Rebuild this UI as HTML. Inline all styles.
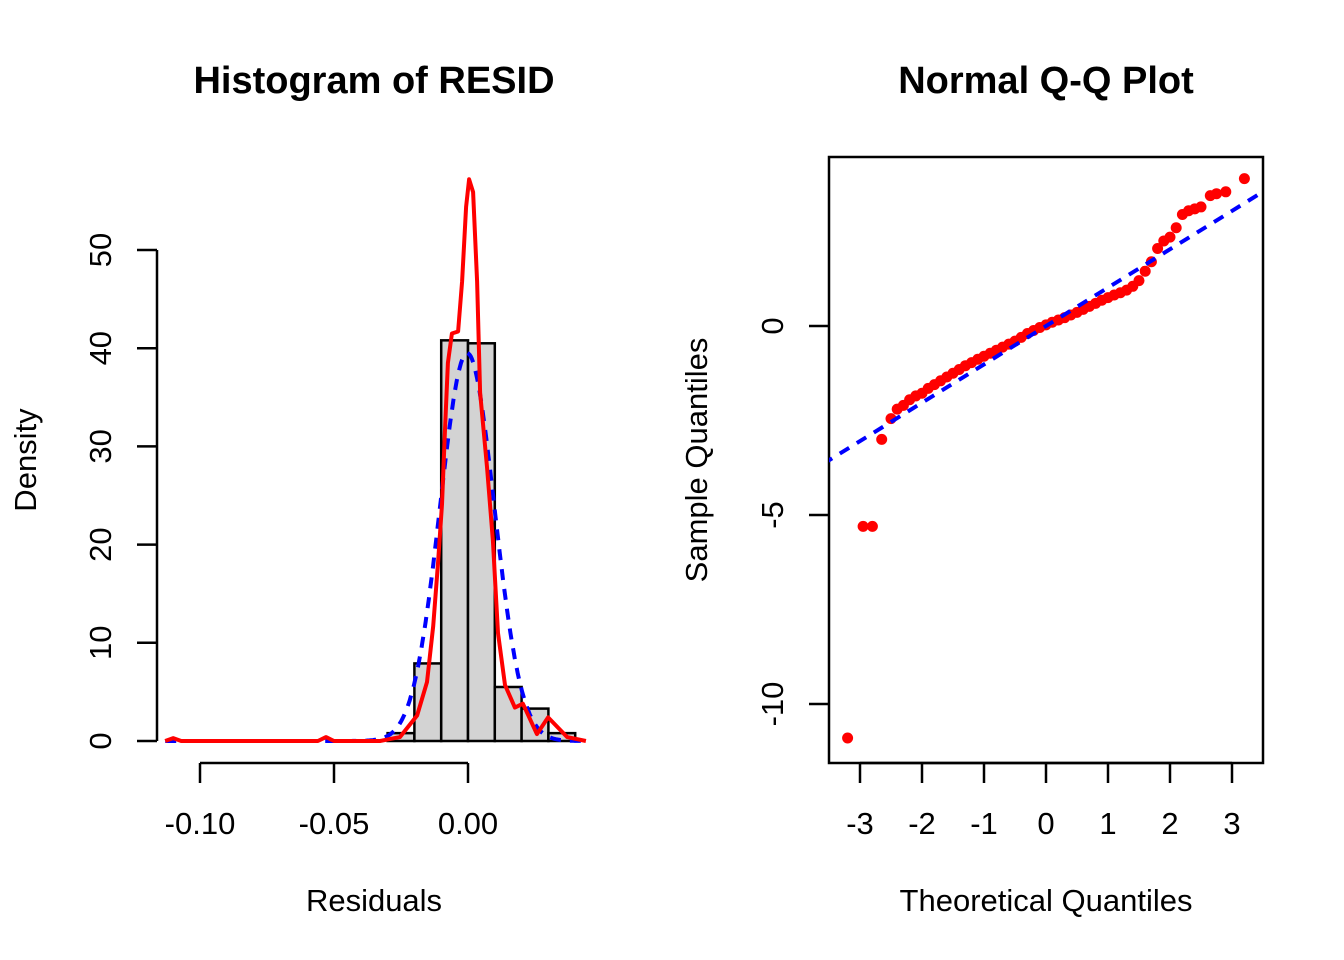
<!DOCTYPE html>
<html><head><meta charset="utf-8"><style>
body{margin:0;background:#fff;}
svg{display:block;font-family:"Liberation Sans",Arial,sans-serif;}
</style></head><body>
<svg id="chart" width="1344" height="960" viewBox="0 0 1344 960" xmlns="http://www.w3.org/2000/svg">
<rect width="1344" height="960" fill="#fff"/>
<g id="hist"></g>
<g id="qq"></g>
</svg>
<script>
// ---- Histogram data ----
const binEdges = [-0.03,-0.02,-0.01,0,0.01,0.02,0.03,0.04];
const binDensity = [0.8,7.9,40.8,40.5,5.5,3.3,0.8];
const kdeX = [-0.113,-0.110,-0.107,-0.056,-0.053,-0.050,-0.035,-0.0328,-0.0254,-0.019,-0.0153,-0.013,-0.0112,-0.0097,-0.0086,-0.0075,-0.006,-0.0037,-0.0022,-0.0007,0.0004,0.0019,0.0034,0.0045,0.0071,0.0093,0.0112,0.0138,0.0175,0.0205,0.0257,0.0299,0.037,0.044];
const kdeY = [0,0.3,0,0,0.4,0,0,0,0.4,2.6,6,11.7,18.1,24.1,31.7,38.5,41.5,41.7,46.8,54.4,57.2,55.9,46.8,35.5,27.9,20.4,11,5.7,3.4,3.8,0.7,2.4,0.4,0];
const normMean = -0.0003, normSd = 0.0101;
const histXTicks = [-0.10,-0.05,0.00];
const histXTickLabels = ["-0.10","-0.05","0.00"];
const histYTicks = [0,10,20,30,40,50];

// ---- QQ data ----
const qqTheo = [-3.2,-2.95,-2.8,-2.65,-2.5,-2.4,-2.3,-2.2,-2.1,-2.0,-1.9,-1.8,-1.7,-1.6,-1.5,-1.4,-1.3,-1.2,-1.1,-1.0,-0.9,-0.8,-0.7,-0.6,-0.5,-0.4,-0.3,-0.2,-0.1,0,0.1,0.2,0.3,0.4,0.5,0.6,0.7,0.8,0.9,1.0,1.1,1.2,1.3,1.4,1.5,1.6,1.7,1.8,1.9,2.0,2.1,2.2,2.3,2.4,2.5,2.65,2.75,2.9,3.2];
const qqSample = [-10.9,-5.3,-5.3,-3.0,-2.45,-2.2,-2.1,-1.95,-1.85,-1.78,-1.65,-1.55,-1.45,-1.35,-1.25,-1.15,-1.05,-0.97,-0.88,-0.8,-0.72,-0.64,-0.56,-0.48,-0.4,-0.3,-0.2,-0.12,-0.04,0.03,0.1,0.16,0.22,0.29,0.36,0.44,0.52,0.6,0.68,0.75,0.82,0.88,0.95,1.05,1.2,1.45,1.7,2.05,2.25,2.35,2.6,2.95,3.05,3.1,3.15,3.45,3.5,3.55,3.9];
const qqLineIntercept = 0, qqLineSlope = 1.015;
const qqXTicks = [-3,-2,-1,0,1,2,3];
const qqYTicks = [0,-5,-10];

const NS="http://www.w3.org/2000/svg";
function mk(parent,tag,attrs,text){const e=document.createElementNS(NS,tag);for(const k in attrs)e.setAttribute(k,attrs[k]);if(text!==undefined)e.textContent=text;parent.appendChild(e);return e;}

// Histogram axes
const hx = v => 468 + v*2680;
const hy = v => 741 - v*9.82;
const H=document.getElementById('hist');
let t=mk(H,'text',{x:374,y:93,'text-anchor':'middle','font-size':38,'font-weight':'bold'},'Histogram of RESID');

t=mk(H,'text',{x:374,y:911,'text-anchor':'middle','font-size':31},'Residuals');

t=mk(H,'text',{x:0,y:0,'text-anchor':'middle','font-size':31,transform:'translate(36,460) rotate(-90)'},'Density');

for(let i=0;i<binDensity.length;i++){
  const r=mk(H,'rect',{x:hx(binEdges[i]),y:hy(binDensity[i]),width:hx(binEdges[i+1])-hx(binEdges[i]),height:hy(0)-hy(binDensity[i]),fill:'#d3d3d3',stroke:'#000','stroke-width':2.5});
  
  
}
// normal curve
let pts=[];
for(let x=-0.113;x<=0.0445;x+=0.0004){const d=Math.exp(-0.5*((x-normMean)/normSd)**2)/(normSd*Math.sqrt(2*Math.PI));pts.push(hx(x).toFixed(1)+','+hy(d).toFixed(1));}
let p=mk(H,'polyline',{points:pts.join(' '),fill:'none',stroke:'#0000ff','stroke-width':4,'stroke-dasharray':'11,9'});

p=mk(H,'polyline',{points:kdeX.map((x,i)=>hx(x).toFixed(1)+','+hy(kdeY[i]).toFixed(1)).join(' '),fill:'none',stroke:'#ff0000','stroke-width':4,'stroke-linejoin':'round'});

// x axis
mk(H,'line',{x1:hx(histXTicks[0]),x2:hx(histXTicks[histXTicks.length-1]),y1:763,y2:763,stroke:'#000','stroke-width':2.5});
histXTicks.forEach((v,i)=>{mk(H,'line',{x1:hx(v),x2:hx(v),y1:763,y2:783,stroke:'#000','stroke-width':2.5});
 const l=mk(H,'text',{x:hx(v),y:834,'text-anchor':'middle','font-size':31},histXTickLabels[i]);
 });
// y axis
mk(H,'line',{x1:157,x2:157,y1:hy(0),y2:hy(50),stroke:'#000','stroke-width':2.5});
histYTicks.forEach(v=>{mk(H,'line',{x1:137,x2:157,y1:hy(v),y2:hy(v),stroke:'#000','stroke-width':2.5});
 const l=mk(H,'text',{x:0,y:0,'text-anchor':'middle','font-size':31,transform:`translate(111,${hy(v)}) rotate(-90)`},String(v));
 });

// QQ
const qx = v => 1046 + v*62;
const qy = v => 326 - v*37.8;
const Q=document.getElementById('qq');
t=mk(Q,'text',{x:1046,y:93,'text-anchor':'middle','font-size':38,'font-weight':'bold'},'Normal Q-Q Plot');

t=mk(Q,'text',{x:1046,y:911,'text-anchor':'middle','font-size':31},'Theoretical Quantiles');

t=mk(Q,'text',{x:0,y:0,'text-anchor':'middle','font-size':31,transform:'translate(707,460) rotate(-90)'},'Sample Quantiles');

mk(Q,'defs',{}).innerHTML='<clipPath id="qclip"><rect x="829" y="157" width="434" height="606"/></clipPath>';
let b=mk(Q,'rect',{x:829,y:157,width:434,height:606,fill:'none',stroke:'#000','stroke-width':2.5});

const pg=mk(Q,'g',{'clip-path':'url(#qclip)'});
qqTheo.forEach((x,i)=>{const c=mk(pg,'circle',{cx:qx(x),cy:qy(qqSample[i]),r:5.5,fill:'#ff0000'});
 });
const lx1=-3.6,lx2=3.6;
let ql=mk(pg,'line',{x1:qx(lx1),y1:qy(qqLineIntercept+qqLineSlope*lx1),x2:qx(lx2),y2:qy(qqLineIntercept+qqLineSlope*lx2),stroke:'#0000ff','stroke-width':4,'stroke-dasharray':'11,9'});

mk(Q,'line',{x1:qx(-3),x2:qx(3),y1:763,y2:763,stroke:'#000','stroke-width':2.5});
qqXTicks.forEach(v=>{mk(Q,'line',{x1:qx(v),x2:qx(v),y1:763,y2:783,stroke:'#000','stroke-width':2.5});
 const l=mk(Q,'text',{x:qx(v),y:834,'text-anchor':'middle','font-size':31},String(v));
 });
qqYTicks.forEach(v=>{mk(Q,'line',{x1:809,x2:829,y1:qy(v),y2:qy(v),stroke:'#000','stroke-width':2.5});
 const l=mk(Q,'text',{x:0,y:0,'text-anchor':'middle','font-size':31,transform:`translate(783,${qy(v)}) rotate(-90)`},String(v));
 });
</script>
</body></html>
